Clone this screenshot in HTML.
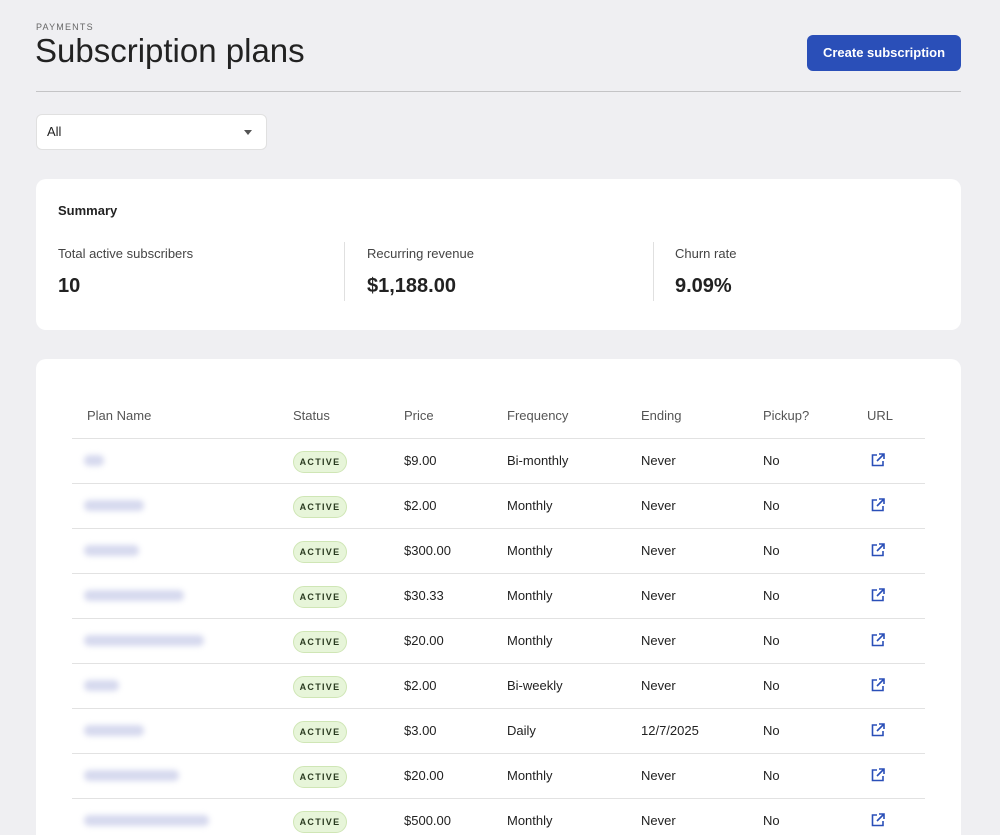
<!DOCTYPE html>
<html><head><style>
html,body{margin:0;width:1000px;height:835px;overflow:hidden}
body{background:#efeff2;font-family:"Liberation Sans",sans-serif;color:#222;position:relative}
.a{position:absolute}
.card{position:absolute;background:#fff;border-radius:10px}
.hd{position:absolute;top:408px;font-size:13px;color:#555}
.row{position:absolute;left:72px;width:853px;height:45px;border-top:1px solid #e2e2e2}
.c{position:absolute;top:14px;font-size:13px;color:#222}
.badge{position:absolute;left:221px;top:12px;width:52px;height:20px;border:1px solid #cfe6b5;background:#e7f5d9;border-radius:11px;font-size:9px;font-weight:bold;letter-spacing:1.3px;display:flex;align-items:center;justify-content:center;color:#2a3a20}
.blur{position:absolute;left:12px;top:16px;height:11px;background:#d6d9ee;filter:blur(3px);border-radius:5px}
.ic{position:absolute;left:798px;top:13px}
</style></head><body>
<div class="a" style="left:36px;top:22px;font-size:9px;letter-spacing:1.2px;color:#666">PAYMENTS</div>
<div class="a" style="left:35px;top:32px;font-size:33px;color:#222">Subscription plans</div>
<div class="a" style="left:807px;top:35px;width:154px;height:36px;background:#2a4fb8;border-radius:6px;color:#fff;font-size:13px;font-weight:bold;text-align:center;line-height:36px">Create subscription</div>
<div class="a" style="left:36px;top:91px;width:925px;height:1px;background:#c4c4c6"></div>
<div class="a" style="left:36px;top:114px;width:229px;height:34px;background:#fff;border:1px solid #e0e0e0;border-radius:6px"><span class="a" style="left:10px;top:9px;font-size:13px">All</span><span class="a" style="left:207px;top:15px;width:0;height:0;border-left:4px solid transparent;border-right:4px solid transparent;border-top:5px solid #555"></span></div>
<div class="card" style="left:36px;top:179px;width:925px;height:151px">
<div class="a" style="left:22px;top:24px;font-size:13px;font-weight:bold">Summary</div>
<div class="a" style="left:22px;top:67px;font-size:13px;color:#444">Total active subscribers</div>
<div class="a" style="left:22px;top:96px;font-size:20px;font-weight:bold">10</div>
<div class="a" style="left:308px;top:63px;width:1px;height:59px;background:#e0e0e0"></div>
<div class="a" style="left:331px;top:67px;font-size:13px;color:#444">Recurring revenue</div>
<div class="a" style="left:331px;top:96px;font-size:20px;font-weight:bold">$1,188.00</div>
<div class="a" style="left:617px;top:63px;width:1px;height:59px;background:#e0e0e0"></div>
<div class="a" style="left:639px;top:67px;font-size:13px;color:#444">Churn rate</div>
<div class="a" style="left:639px;top:96px;font-size:20px;font-weight:bold">9.09%</div>
</div>
<div class="card" style="left:36px;top:359px;width:925px;height:500px"></div>
<div class="hd" style="left:87px">Plan Name</div><div class="hd" style="left:293px">Status</div><div class="hd" style="left:404px">Price</div><div class="hd" style="left:507px">Frequency</div><div class="hd" style="left:641px">Ending</div><div class="hd" style="left:763px">Pickup?</div><div class="hd" style="left:867px">URL</div>
<div id="t"></div>
<script>
var d=[[20,"$9.00","Bi-monthly","Never"],[60,"$2.00","Monthly","Never"],[55,"$300.00","Monthly","Never"],[100,"$30.33","Monthly","Never"],[120,"$20.00","Monthly","Never"],[35,"$2.00","Bi-weekly","Never"],[60,"$3.00","Daily","12/7/2025"],[95,"$20.00","Monthly","Never"],[125,"$500.00","Monthly","Never"]];
var h="";d.forEach(function(r,i){h+='<div class="row" style="top:'+(438+45*i)+'px"><div class="blur" style="width:'+r[0]+'px"></div><div class="badge">ACTIVE</div><div class="c" style="left:332px">'+r[1]+'</div><div class="c" style="left:435px">'+r[2]+'</div><div class="c" style="left:569px">'+r[3]+'</div><div class="c" style="left:691px">No</div><svg class="ic" width="16" height="16" viewBox="0 0 16 16" fill="none" stroke="#2a4fb8" stroke-width="1.6"><path d="M7 3H2.5v10.5H13V9"/><path d="M9 2h5v5M14 2L7 9"/></svg></div>'});
document.getElementById("t").innerHTML=h;
</script>
</body></html>
